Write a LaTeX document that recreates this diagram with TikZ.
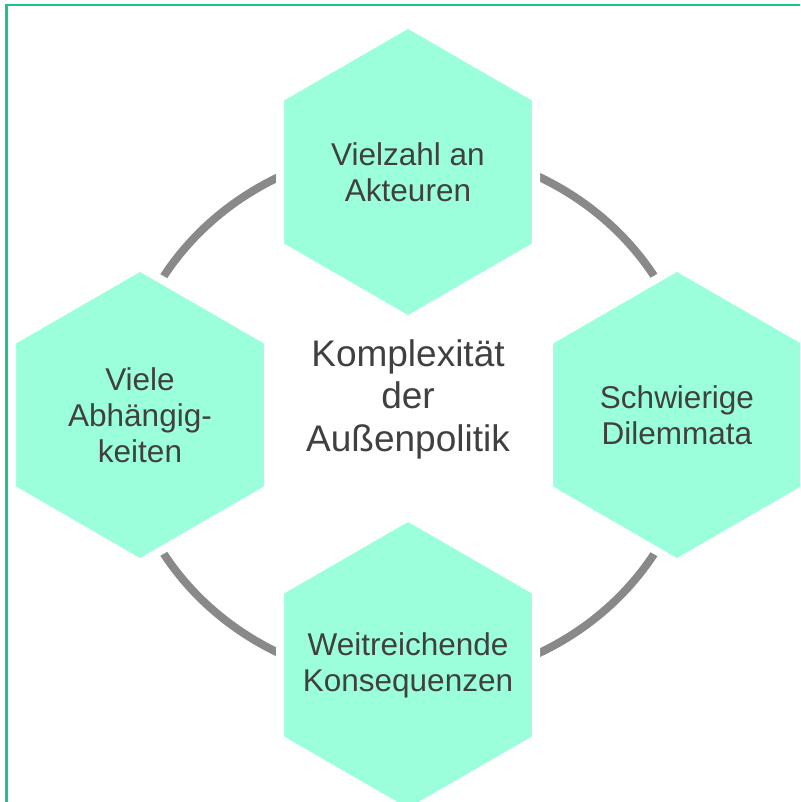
\documentclass[tikz,border=0pt]{standalone}
\usepackage{fontspec}
\setmainfont{Liberation Sans}
\usetikzlibrary{shapes.geometric}
\definecolor{hexfill}{HTML}{9CFFDC}
\definecolor{framegreen}{HTML}{1BC48C}
\definecolor{ringgray}{HTML}{898989}
\definecolor{textgray}{HTML}{404040}
\tikzstyle{hexa} = [regular polygon, regular polygon sides=6, shape border rotate=30, fill=hexfill, draw=white, line width=8pt, minimum size=295.6pt, inner sep=-40pt, align=center, text=textgray, font=\fontsize{31.5}{36}\selectfont]
\tikzstyle{topic} = [align=center, text=textgray, font=\fontsize{37}{42.5}\selectfont]
\tikzstyle{ring} = [draw=ringgray, line width=8pt]
\tikzstyle{frame} = [draw=framegreen, line width=2.4pt]

\begin{document}
\begin{tikzpicture}[x=1pt, y=1pt]
\useasboundingbox (0,0) rectangle (800,802);
\clip (0,0) rectangle (800,802);

% frame, only its top and left edge are on the page
\draw[frame] (810,796.7) -- (6.5,796.7) -- (6.5,-10);

% ring behind the hexagons
\coordinate (mid) at (408,387);
\draw[ring] ([xshift=1pt]mid) ellipse [x radius=287, y radius=267];

% four hexagons round the ring
\node[hexa] (actors) at ([yshift=243pt]mid) {Vielzahl an\\Akteuren};
\node[hexa] (dilemma) at ([xshift=269pt]mid) {Schwierige\\Dilemmata};
\node[hexa] (conseq) at ([yshift=-250pt]mid) {Weitreichende\\Konsequenzen};
\node[hexa] (depend) at ([xshift=-268pt]mid) {Viele\\Abhängig-\\keiten};

% centre text
\node[topic] (policy) at ([yshift=16pt]mid) {Komplexität\\der\\Außenpolitik};

\end{tikzpicture}
\end{document}
